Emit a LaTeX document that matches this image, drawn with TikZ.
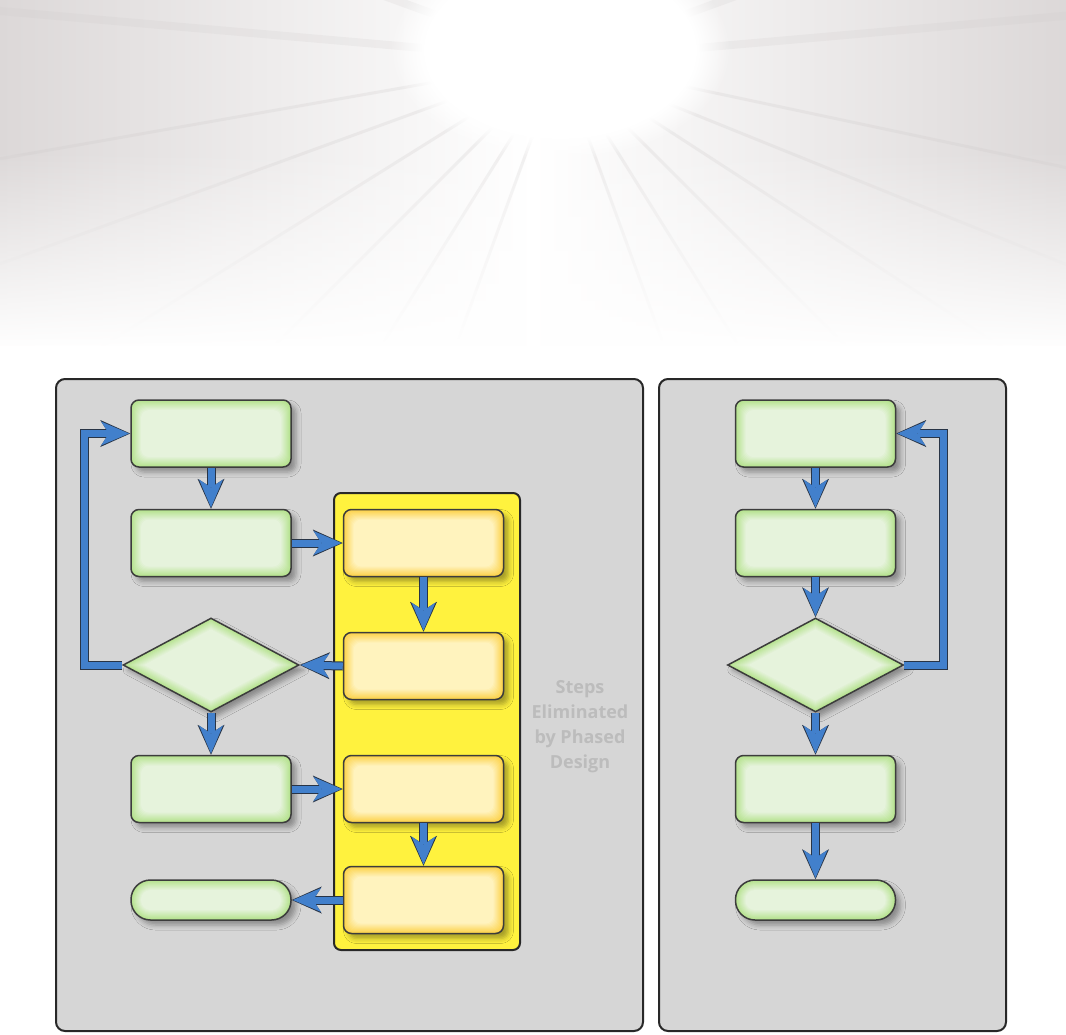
\documentclass[tikz,border=0pt]{standalone}
\usepackage{fontspec}
\newfontfamily\notefont{Open Sans}
\usetikzlibrary{arrows.meta,shapes.geometric,shadows.blur,fadings,calc}
\definecolor{photoSide}{RGB}{220,216,216}
\definecolor{photoRay}{RGB}{206,202,202}
\definecolor{panelGray}{RGB}{214,214,214}
\definecolor{panelEdge}{RGB}{40,40,40}
\definecolor{boxEdge}{RGB}{60,60,60}
\definecolor{greenIn}{RGB}{230,243,220}
\definecolor{greenOut}{RGB}{180,226,140}
\definecolor{goldIn}{RGB}{255,243,190}
\definecolor{goldOut}{RGB}{252,210,72}
\definecolor{laneYellow}{RGB}{255,242,62}
\definecolor{arrowBlue}{RGB}{66,128,204}
\definecolor{arrowEdge}{RGB}{40,52,70}
\definecolor{noteGray}{RGB}{188,188,188}
\tikzfading[name=fadetowhite,top color=transparent!100,bottom color=transparent!0]
\tikzset{
  softshadow/.style={blur shadow={shadow xshift=5pt,shadow yshift=-5pt,shadow blur radius=5pt,shadow opacity=35}},
  % inner glow: nested rounded rectangles from edge colour to centre colour
  boxglow/.style 2 args={fill=#1,path picture={
    \foreach \k [evaluate=\k as \p using int(\k*10)] in {1,...,10}
      \fill[#2!\p!#1,rounded corners=8pt]
        ($(path picture bounding box.north west)+(\k,\k)$) rectangle
        ($(path picture bounding box.south east)+(-\k,-\k)$);}},
  diamondglow/.style 2 args={fill=#1,path picture={
    \foreach \k [evaluate=\k as \p using int(\k*10)] in {1,...,10}
      \fill[#2!\p!#1] (path picture bounding box.center)
        +(0,{-47+1.13*\k}) -- +({88-2.12*\k},0) -- +(0,{47-1.13*\k}) -- +({-88+2.12*\k},0) -- cycle;}},
  stepbox/.style={draw=boxEdge,line width=1.5pt,rounded corners=8pt,boxglow={greenOut}{greenIn},
    minimum width=160pt,minimum height=67pt,inner sep=0pt,softshadow},
  goldbox/.style={stepbox,boxglow={goldOut}{goldIn}},
  endbox/.style={stepbox,rounded corners=19.5pt,minimum height=40pt,fill=greenOut,path picture={
    \foreach \k [evaluate=\k as \p using int(\k*10)] in {1,...,10}
      \fill[greenIn!\p!greenOut,rounded corners={19.5pt-\k pt}]
        ($(path picture bounding box.north west)+(\k,\k)$) rectangle
        ($(path picture bounding box.south east)+(-\k,-\k)$);}},
  decision/.style={diamond,draw=boxEdge,line width=1.5pt,diamondglow={greenOut}{greenIn},aspect=1.87,
    minimum width=176pt,minimum height=94pt,inner sep=0pt,softshadow},
  flow/.style={draw=arrowBlue,line width=7pt,shorten >=1.3pt,
    -{Stealth[length=28pt,width=24pt,inset=8pt,line width=0pt]},
    preaction={draw=arrowEdge,line width=9pt,shorten >=0pt,
      -{Stealth[length=30pt,width=27pt,inset=8.5pt,line width=0pt]}}},
  stepsnote/.style={align=center,text=noteGray,font=\notefont\bfseries\fontsize{18}{25}\selectfont}
}

\begin{document}
\begin{tikzpicture}[x=1pt,y=-1pt]
  \useasboundingbox (0,0) rectangle (1066,1034);
  % backdrop
  \fill[white] (0,0) rectangle (1066,1034);
  \shade[left color=photoSide,right color=photoSide,middle color=white] (0,0) rectangle (1066,345);
  \begin{scope}
    \clip (0,0) rectangle (1066,345);
    \foreach \ang in {12,22,33,45,58,70,110,122,135,148,160,170}
      \draw[photoRay,line width=3pt,opacity=.25] (560,60) -- ++(\ang:800);
    \foreach \ang in {185,200,340,355}
      \draw[photoRay,line width=8pt,opacity=.2] (560,60) -- ++(\ang:800);
  \end{scope}
  \fill[white,path fading=fadetowhite] (-20,150) rectangle (1086,350);
  \fill[white,path fading=circle with fuzzy edge 20 percent] (560,50) ellipse (170 and 110);
  % panels
  \draw[draw=panelEdge,line width=2pt,fill=panelGray,rounded corners=9pt] (56,379) rectangle (643,1031);
  \draw[draw=panelEdge,line width=2pt,fill=panelGray,rounded corners=9pt] (659,379) rectangle (1006,1031);
  \draw[draw=panelEdge,line width=2pt,fill=laneYellow,rounded corners=7pt] (334,493) rectangle (520,950);
  \node[stepsnote] (note) at (580,727) {Steps\\Eliminated\\by Phased\\Design};

  % conventional flow
  \node[stepbox] (l1) at (211,433.5) {};
  \node[stepbox] (l2) at (211,543) {};
  \node[decision] (ld) at (211,665) {};
  \node[stepbox] (l3) at (211,789) {};
  \node[endbox] (le) at (211,900) {};
  \node[goldbox] (y1) at (423.5,543) {};
  \node[goldbox] (y2) at (423.5,666) {};
  \node[goldbox] (y3) at (423.5,789) {};
  \node[goldbox] (y4) at (423.5,900) {};

  % phased flow
  \node[stepbox] (r1) at (815.5,433.5) {};
  \node[stepbox] (r2) at (815.5,543) {};
  \node[decision] (rd) at (815.5,665) {};
  \node[stepbox] (r3) at (815.5,789) {};
  \node[endbox] (re) at (815.5,900) {};

  \coordinate (loopL) at (84,665);
  \coordinate (loopR) at (943,665);

  \draw[flow] (l1) -- (l2);
  \draw[flow] (l2) -- (y1);
  \draw[flow] (y1) -- (y2);
  \draw[flow] (y2.west) -- (ld.east);
  \draw[flow] (ld) -- (l3);
  \draw[flow] (l3) -- (y3);
  \draw[flow] (y3) -- (y4);
  \draw[flow] (y4.west) -- (le.east);
  \draw[flow] (ld.west) -- (loopL) |- (l1.west);

  \draw[flow] (r1) -- (r2);
  \draw[flow] (r2) -- (rd);
  \draw[flow] (rd) -- (r3);
  \draw[flow] (r3) -- (re);
  \draw[flow] (rd.east) -- (loopR) |- (r1.east);
\end{tikzpicture}
\end{document}
